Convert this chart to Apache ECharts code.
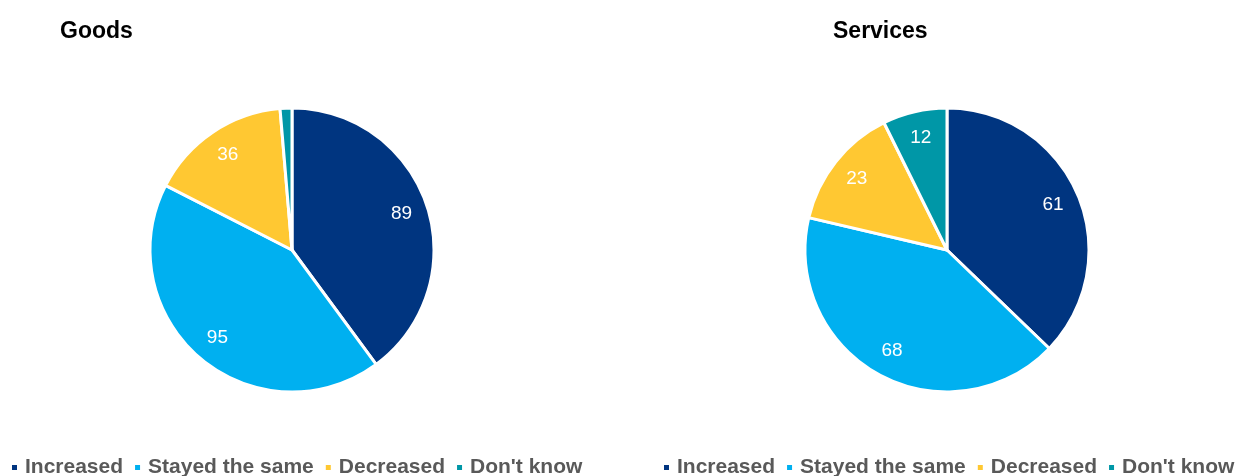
<!DOCTYPE html>
<html>
<head>
<meta charset="utf-8">
<script src="https://cdn.jsdelivr.net/npm/echarts@6/dist/echarts.min.js"></script>
<style>
  html, body { margin: 0; padding: 0; background: #ffffff; }
  #chart { width: 1245px; height: 476px; }
</style>
</head>
<body>
<div id="chart"></div>
<script>
// Survey responses: change in prices
const categories = ['Increased', 'Stayed the same', 'Decreased', "Don't know"];
const goodsValues = [89, 95, 36, 3];
const servicesValues = [61, 68, 23, 12];
const panelTitles = ['Goods', 'Services'];
const colors = ['#003580', '#00B0F0', '#FFC832', '#0097A7'];

const R = 142;
const centers = [[292, 250], [947, 250]];
const FONT = 'Liberation Sans, Arial, sans-serif';

function slices(values) {
  return categories.map((name, i) => ({ name: name, value: values[i] }));
}

function pieSeries(values, center) {
  return {
    type: 'pie',
    center: center,
    radius: [0, R],
    startAngle: 90,
    clockwise: true,
    avoidLabelOverlap: false,
    label: { show: false },
    labelLine: { show: false },
    emphasis: { disabled: true },
    itemStyle: { borderColor: '#ffffff', borderWidth: 3 },
    data: slices(values)
  };
}

// transparent ring that carries the value labels near the rim
function labelSeries(values, center) {
  return {
    type: 'pie',
    center: center,
    radius: [R * 0.58, R],
    startAngle: 90,
    clockwise: true,
    silent: true,
    avoidLabelOverlap: false,
    itemStyle: { color: 'rgba(0,0,0,0)', borderWidth: 0 },
    emphasis: { disabled: true },
    labelLine: { show: false },
    label: {
      show: true,
      position: 'inside',
      color: '#ffffff',
      fontFamily: FONT,
      fontSize: 19,
      formatter: p => (p.value >= 10 ? String(p.value) : '')
    },
    data: slices(values)
  };
}

function legendAt(left) {
  return {
    left: left,
    top: 457,
    padding: 0,
    orient: 'horizontal',
    icon: 'rect',
    itemWidth: 7,
    itemHeight: 7,
    itemGap: 10,
    selectedMode: false,
    data: categories,
    textStyle: {
      color: '#595959',
      fontFamily: FONT,
      fontWeight: 'bold',
      fontSize: 21,
      padding: [0, 0, 0, 2]
    }
  };
}

const titleStyle = { fontFamily: FONT, fontSize: 23, fontWeight: 'bold', color: '#000000' };

const chart = echarts.init(document.getElementById('chart'), null, { renderer: 'canvas' });
chart.setOption({
  backgroundColor: '#ffffff',
  color: colors,
  animation: false,
  title: [
    { text: panelTitles[0], left: 60, top: 20, padding: 0, textStyle: titleStyle },
    { text: panelTitles[1], left: 833, top: 20, padding: 0, textStyle: titleStyle }
  ],
  legend: [legendAt(10), legendAt(662)],
  series: [
    pieSeries(goodsValues, centers[0]),
    labelSeries(goodsValues, centers[0]),
    pieSeries(servicesValues, centers[1]),
    labelSeries(servicesValues, centers[1])
  ]
});
</script>
</body>
</html>
